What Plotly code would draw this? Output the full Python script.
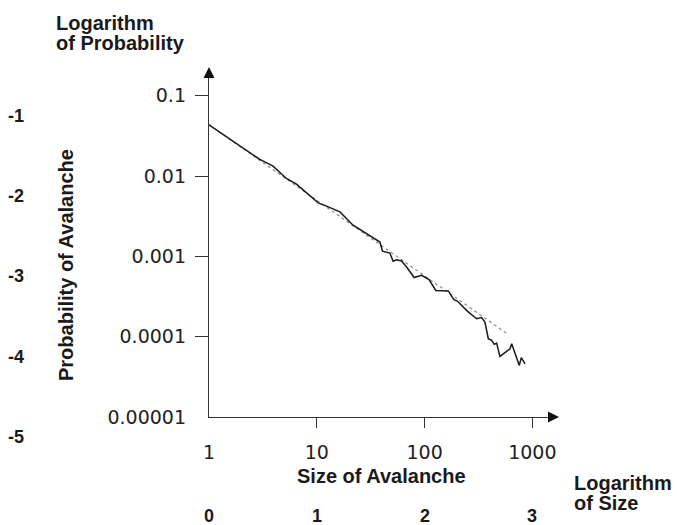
import plotly.graph_objects as go

# Avalanche size distribution (sandpile), log-log
size = [1, 2.96, 3.93, 5.23, 6.48, 10.3, 12.3, 16.4, 21.7, 38.5, 40.7, 47.6, 51.1,
        55.0, 61.1, 68.1, 80.0, 93.8, 110, 127, 166, 187, 201, 249, 304, 338, 363,
        390, 419, 443, 466, 500, 620, 643, 756, 789, 854]
prob = [0.0435, 0.0161, 0.01327, 0.00933, 0.00793, 0.00463, 0.00422, 0.00358,
        0.00244, 0.00151, 0.00116, 0.00110, 0.000869, 0.000908, 0.000877, 0.000738,
        0.000545, 0.000581, 0.000514, 0.000377, 0.000371, 0.000289, 0.000278,
        0.000208, 0.000167, 0.000173, 0.000152, 9.44e-5, 8.99e-5, 8.02e-5, 8.32e-5,
        5.68e-5, 7.08e-5, 8.18e-5, 4.39e-5, 5.47e-5, 4.60e-5]

# power-law fit (end points)
fit_size = [1, 600]
fit_prob = [0.0435, 1.06e-4]

x_tickvals = [1, 10, 100, 1000]
x_ticktext = ["1", "10", "100", "1000"]
y_tickvals = [0.1, 0.01, 0.001, 0.0001, 0.00001]
y_ticktext = ["0.1", "0.01", "0.001", "0.0001", "0.00001"]

log_size_labels = [0, 1, 2, 3]
log_prob_labels = [-1, -2, -3, -4, -5]

AXIS = "#333333"
BOLD = "Liberation Sans, Arial, sans-serif"
TICKFONT = dict(family="DejaVu Sans, sans-serif", size=19, color="#222222")

fig = go.Figure()
fig.add_trace(go.Scatter(x=fit_size, y=fit_prob, mode="lines",
                         line=dict(color="#8a8a8a", width=1.2, dash="3px,3px"),
                         showlegend=False, hoverinfo="skip"))
fig.add_trace(go.Scatter(x=size, y=prob, mode="lines",
                         line=dict(color="#1a1a1a", width=1.5),
                         showlegend=False))

XR = [0, 3.145]
YR = [-5, -0.779]

fig.update_layout(
    width=677, height=525,
    margin=dict(l=209, r=129, t=78, b=108),
    paper_bgcolor="white", plot_bgcolor="white",
    xaxis=dict(type="log", range=XR, tickvals=x_tickvals, ticktext=x_ticktext,
               ticks="", showline=True, linecolor=AXIS, linewidth=1.4,
               showgrid=False, zeroline=False, tickfont=TICKFONT,
               ticklabelstandoff=18),
    yaxis=dict(type="log", range=YR, tickvals=y_tickvals, ticktext=y_ticktext,
               ticks="", showline=True, linecolor=AXIS, linewidth=1.4,
               showgrid=False, zeroline=False, tickfont=TICKFONT,
               ticklabelstandoff=18),
    # overlay axes carrying only the interior tick marks
    xaxis2=dict(type="log", range=XR, overlaying="x", anchor="y", side="bottom",
                tickvals=x_tickvals[1:], ticks="outside", ticklen=10,
                tickwidth=1.4, tickcolor=AXIS, showticklabels=False,
                showgrid=False, zeroline=False, showline=False),
    yaxis2=dict(type="log", range=YR, overlaying="y", anchor="x", side="left",
                tickvals=y_tickvals[:-1], ticks="outside", ticklen=13,
                tickwidth=1.4, tickcolor=AXIS, showticklabels=False,
                showgrid=False, zeroline=False, showline=False),
)
# dummy trace so the overlay axes are drawn
fig.add_trace(go.Scatter(x=[1], y=[1], xaxis="x2", yaxis="y2", mode="markers",
                         marker=dict(opacity=0), showlegend=False, hoverinfo="skip"))

# arrowheads at the axis ends
fig.add_shape(type="path", xref="paper", yref="paper", xsizemode="pixel",
              ysizemode="pixel", xanchor=0, yanchor=1,
              path="M -5.5,0 L 5.5,0 L 0,11 Z", fillcolor="#111111",
              line=dict(width=0))
fig.add_shape(type="path", xref="paper", yref="paper", xsizemode="pixel",
              ysizemode="pixel", xanchor=1, yanchor=0,
              path="M 0,-5.5 L 0,5.5 L 11,0 Z", fillcolor="#111111",
              line=dict(width=0))

bold = lambda s: dict(family=BOLD, size=s, color="#1a1a1a")

# axis titles
fig.add_annotation(text="<b>Size of Avalanche</b>", xref="paper", yref="paper",
                   x=0.5, y=0, xshift=3, yshift=-59, showarrow=False,
                   xanchor="center", yanchor="middle", font=bold(20))
fig.add_annotation(text="<b>Probability of Avalanche</b>", xref="paper", yref="paper",
                   x=0, y=0, xshift=-143, yshift=152, textangle=-90,
                   showarrow=False, xanchor="center", yanchor="middle", font=bold(20))

# logarithmic scale captions
for txt, ys in [("Logarithm", 55), ("of Probability", 35)]:
    fig.add_annotation(text=f"<b>{txt}</b>", xref="paper", yref="paper", x=0, y=1,
                       xshift=-155, yshift=ys, showarrow=False, xanchor="left",
                       yanchor="middle", font=bold(20))
for txt, ys in [("Logarithm", -66), ("of Size", -86)]:
    fig.add_annotation(text=f"<b>{txt}</b>", xref="paper", yref="paper", x=1, y=0,
                       xshift=24, yshift=ys, showarrow=False, xanchor="left",
                       yanchor="middle", font=bold(20))

for k in log_size_labels:
    fig.add_annotation(text=f"<b>{k}</b>", xref="x", yref="paper", x=k, y=0,
                       yshift=-99, showarrow=False, xanchor="center",
                       yanchor="middle", font=bold(18))
for k in log_prob_labels:
    fig.add_annotation(text=f"<b>{k}</b>", xref="paper", yref="y", x=0, y=k,
                       xshift=-193, yshift=-20, showarrow=False, xanchor="center",
                       yanchor="middle", font=bold(18))

fig.write_html("out.html")
